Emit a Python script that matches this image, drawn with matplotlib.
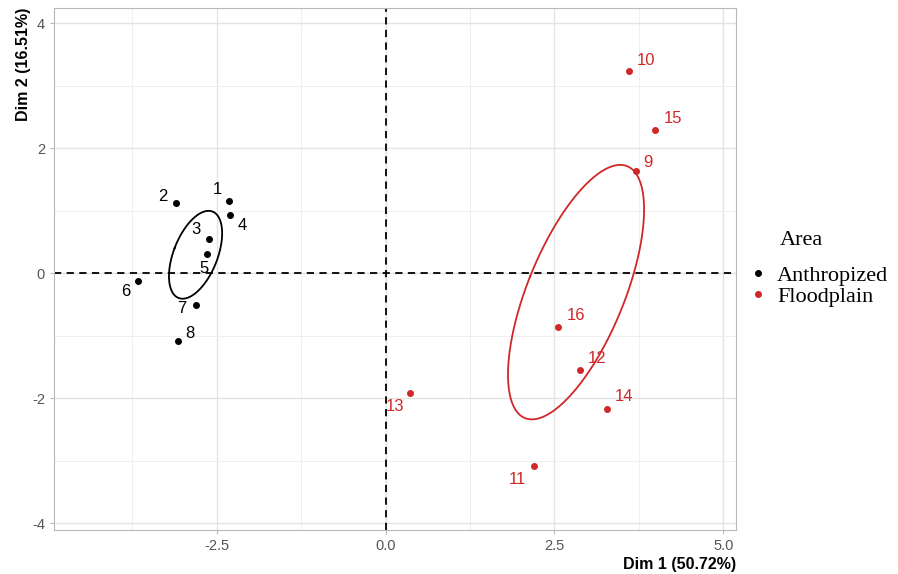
import numpy as np
import matplotlib
matplotlib.use('Agg')
from matplotlib import pyplot as plt
from matplotlib.lines import Line2D

plt.rcParams['axes.unicode_minus'] = False

# PCA individual coordinates
ids = ['1', '2', '3', '4', '5', '6', '7', '8',
       '9', '10', '11', '12', '13', '14', '15', '16']
dim1 = [-2.32, -3.11, -2.61, -2.30, -2.64, -3.66, -2.80, -3.07,
        3.71, 3.60, 2.20, 2.88, 0.36, 3.28, 3.99, 2.55]
dim2 = [1.16, 1.12, 0.55, 0.93, 0.30, -0.13, -0.51, -1.08,
        1.64, 3.23, -3.09, -1.55, -1.92, -2.17, 2.29, -0.87]
area = ['Anthropized'] * 8 + ['Floodplain'] * 8
groups = ['Anthropized', 'Floodplain']
colors = {'Anthropized': '#000000', 'Floodplain': '#D02828'}

# label offsets in pixels (ggrepel-like placement)
offsets = {'1': (-12, 11), '2': (-13, 7), '3': (-13, 9), '4': (12, -11),
           '5': (-3, -14), '6': (-13, -10), '7': (-15, -4), '8': (12, 7),
           '9': (12, 8), '10': (17, 11), '11': (-17, -13), '12': (17, 11),
           '13': (-15, -13), '14': (17, 12), '15': (18, 11), '16': (18, 12)}

x = np.array(dim1)
y = np.array(dim2)
area = np.array(area)

fig = plt.figure(figsize=(8.98, 5.74), dpi=100)
ax = fig.add_axes([54 / 898, 44 / 574, (736 - 54) / 898, (530 - 8) / 574])

ax.set_xlim(-4.91, 5.19)
ax.set_ylim(-4.11, 4.24)
ax.set_xticks([-2.5, 0.0, 2.5, 5.0])
ax.set_xticklabels(['-2.5', '0.0', '2.5', '5.0'])
ax.set_yticks([-4, -2, 0, 2, 4])
ax.set_xticks([-3.75, -1.25, 1.25, 3.75], minor=True)
ax.set_yticks([-3, -1, 1, 3], minor=True)
ax.grid(True, which='major', color='#E3E3E3', lw=1.0)
ax.grid(True, which='minor', color='#EFEFEF', lw=0.7)
ax.set_axisbelow(True)
for s in ax.spines.values():
    s.set_color('#B8B8B8')
ax.tick_params(which='major', length=3, color='#B8B8B8', labelcolor='#555555',
               labelsize=10.5)
ax.tick_params(which='minor', length=0)
for t in ax.get_xticklabels() + ax.get_yticklabels():
    t.set_family('Liberation Sans')

ax.axhline(0, color='black', ls=(0, (4, 3)), lw=1.3, zorder=2)
ax.axvline(0, color='black', ls=(0, (4, 3)), lw=1.3, zorder=2)

# 95% confidence ellipses around group means
theta = np.linspace(0, 2 * np.pi, 200)
r = np.sqrt(-2 * np.log(0.05))
for g in groups:
    m = area == g
    pts = np.column_stack([x[m], y[m]])
    cov = np.cov(pts, rowvar=False) / m.sum()
    vals, vecs = np.linalg.eigh(cov)
    circ = np.column_stack([np.cos(theta), np.sin(theta)]) * np.sqrt(vals) * r
    ell = circ @ vecs.T + pts.mean(axis=0)
    ax.plot(ell[:, 0], ell[:, 1], color=colors[g], lw=1.3, zorder=3)

for g in groups:
    m = area == g
    ax.scatter(x[m], y[m], s=16, color=colors[g], zorder=4)

for i, lbl in enumerate(ids):
    ax.annotate(lbl, (x[i], y[i]), xytext=offsets[lbl], textcoords='offset pixels',
                ha='center', va='center', fontsize=12, color=colors[area[i]],
                family='Liberation Sans', zorder=5)

ax.set_xlabel('Dim 1 (50.72%)', loc='right', fontsize=11.5, fontweight='bold',
              family='Liberation Sans', labelpad=3)
ax.set_ylabel('Dim 2 (16.51%)', loc='top', fontsize=11.5, fontweight='bold',
              family='Liberation Sans', labelpad=1)

# legend, ggplot style on the right
fig.text(780 / 898, 1 - 245 / 574, 'Area', family='Liberation Serif',
         fontsize=16, va='baseline', ha='left')
handles = [Line2D([], [], ls='', marker='o', markersize=4, color=colors[g])
           for g in groups]
fig.legend(handles, groups, loc='center left',
           bbox_to_anchor=(736 / 898, 1 - 286 / 574), frameon=False,
           prop={'family': 'Liberation Serif', 'size': 16},
           borderpad=0, handletextpad=0.35, handlelength=1.0, labelspacing=0.0)

fig.savefig('out.png', dpi=100)
plt.close(fig)
